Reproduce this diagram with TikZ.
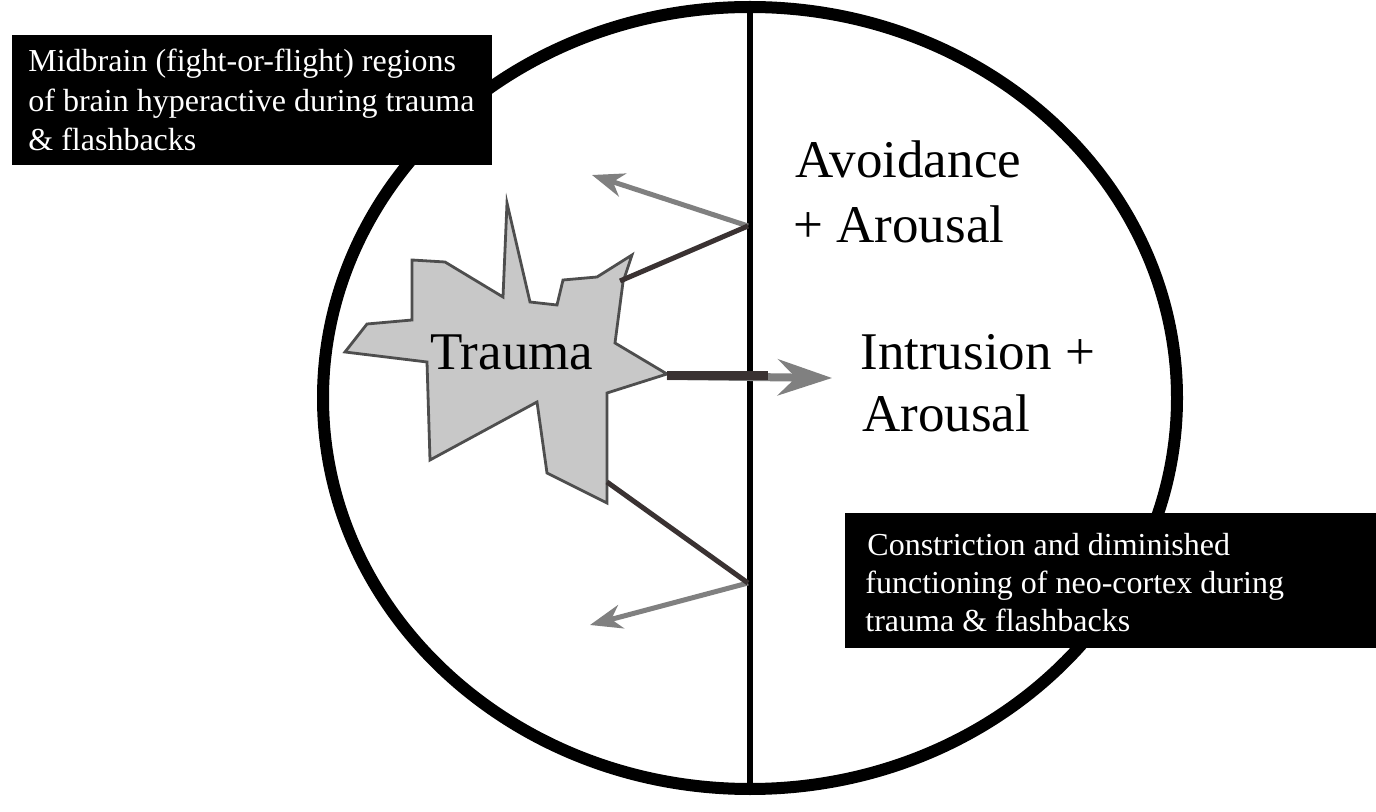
\documentclass[tikz,border=0pt]{standalone}
\usepackage{fontspec}
\setmainfont{Liberation Serif}
\usetikzlibrary{arrows.meta}
\definecolor{Shade}{HTML}{C8C8C8}
\definecolor{Edge}{HTML}{4E4E4E}
\definecolor{Dusk}{HTML}{3A3232}
\definecolor{Ash}{HTML}{808080}

\begin{document}
\begin{tikzpicture}[x=0.5pt,y=-0.5pt,>=Stealth,
  bigtext/.style={font=\fontsize{26.5}{32}\selectfont,anchor=base west,inner sep=0pt},
  boxtext/.style={text=white,font=\fontsize{16}{19}\selectfont,anchor=base west,inner sep=0pt},
  darkline/.style={Dusk,line width=2.5pt},
  grayarrow/.style={Ash,line width=2.5pt,-{Stealth[length=16pt,width=12pt,inset=5pt]}}]
  \useasboundingbox (0,0) rectangle (1376,812);
  \fill[white] (0,0) rectangle (1376,812);
  \draw[line width=6pt] (750,398) ellipse [x radius=213.5pt, y radius=195.5pt];
  \coordinate (lineTop) at (750,4);
  \coordinate (lineBot) at (750,792);
  \draw[line width=2.6pt] (lineTop) -- (lineBot);
  \draw[Edge,fill=Shade,line width=1.4pt,line join=miter]
    (345,352) -- (367,324) -- (412,320) -- (412,260) -- (445,262) -- (503,297)
    -- (507,203) -- (530,302) -- (557,305) -- (563,280) -- (597,277) -- (632,255)
    -- (623,282) -- (615,343) -- (667,374) -- (607,393) -- (607,503) -- (547,473)
    -- (537,402) -- (430,460) -- (427,362) -- cycle;
  \coordinate (spikeN) at (620,281);
  \coordinate (spikeE) at (667,376);
  \coordinate (spikeS) at (607,482);
  \coordinate (joinN) at (748,226);
  \coordinate (joinE) at (768,376);
  \coordinate (joinS) at (748,583);
  \coordinate (tipN) at (592,175);
  \coordinate (tipE) at (832,378);
  \coordinate (tipS) at (590,625);
  \draw[grayarrow] (joinN) -- (tipN);
  \draw[darkline] (joinN) -- (spikeN);
  \draw[grayarrow] (joinS) -- (tipS);
  \draw[darkline] (joinS) -- (spikeS);
  \draw[Ash,line width=4pt,-{Stealth[length=27pt,width=18pt,inset=9pt]}] (spikeE) -- (tipE);
  \draw[Dusk,line width=4.5pt] (spikeE) -- (joinE);
  \node[bigtext] (trauma) at (430,370) {Trauma};
  \node[bigtext] (avoidA) at (795,178) {Avoidance};
  \node[bigtext] (avoidB) at (793,243) {+ Arousal};
  \node[bigtext] (intrA) at (860,370) {Intrusion +};
  \node[bigtext] (intrB) at (862,432) {Arousal};
  \fill[black] (12,35) rectangle (492,165);
  \node[boxtext] (midA) at (28,72) {Midbrain (fight-or-flight) regions};
  \node[boxtext] (midB) at (28,112) {of brain hyperactive during trauma};
  \node[boxtext] (midC) at (28,151) {\& flashbacks};
  \fill[black] (845,513) rectangle (1376,648);
  \node[boxtext] (neoA) at (867,555) {Constriction and diminished};
  \node[boxtext] (neoB) at (865,593) {functioning of neo-cortex during};
  \node[boxtext] (neoC) at (865,631) {trauma \& flashbacks};
\end{tikzpicture}
\end{document}
